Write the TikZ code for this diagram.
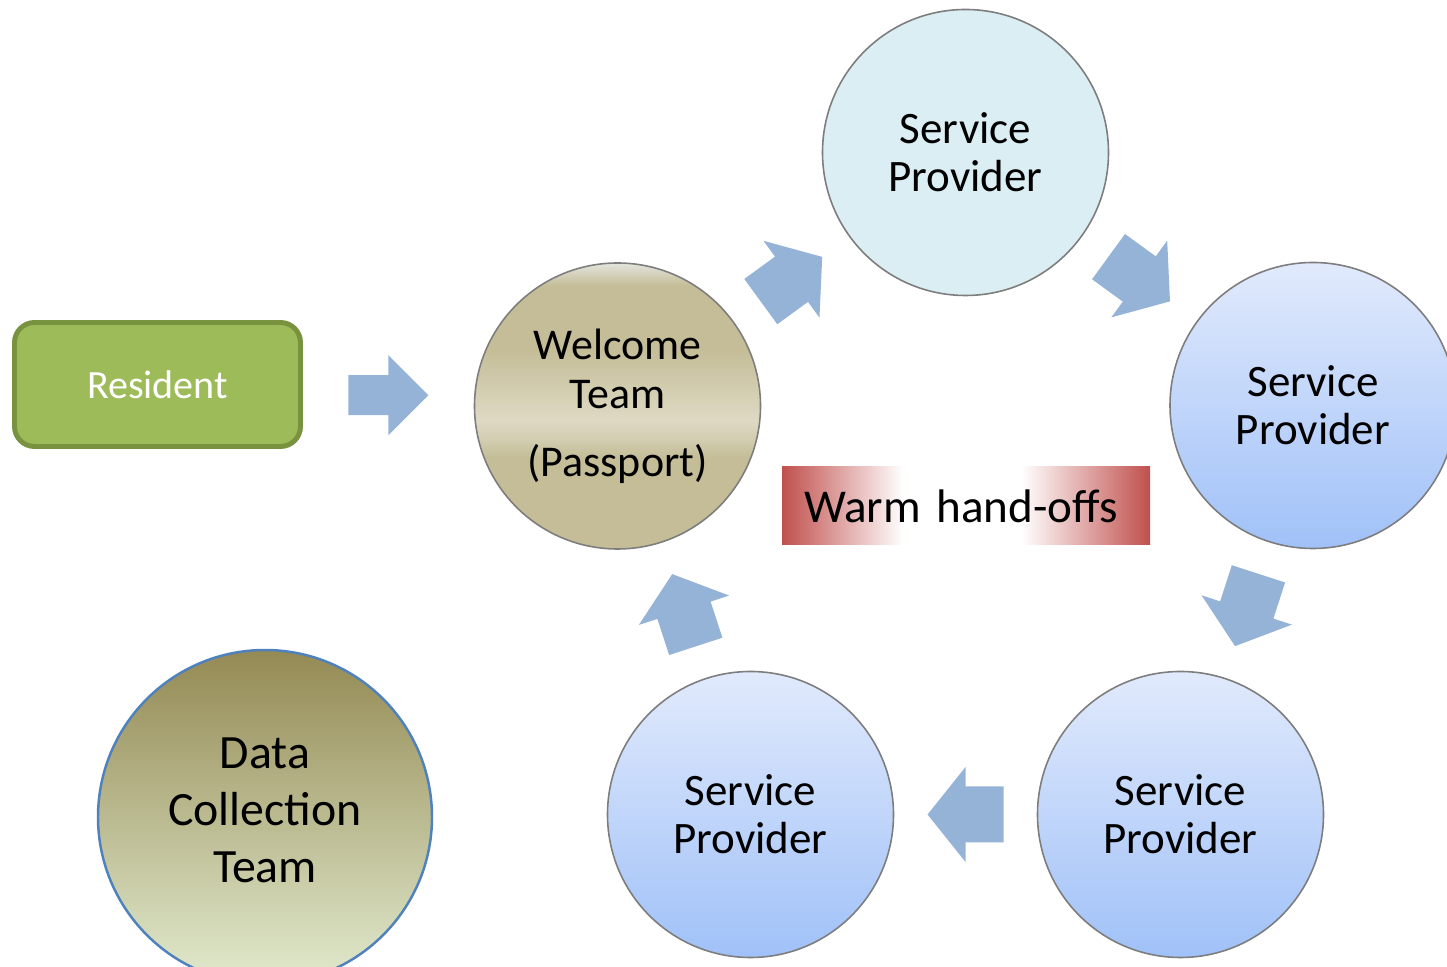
\documentclass[tikz,border=0pt]{standalone}
\usepackage{fontspec}
\setmainfont{Carlito}
\usetikzlibrary{calc}

% palette
\definecolor{arrowblue}{RGB}{149,179,215}
\definecolor{resfill}{RGB}{157,187,89}
\definecolor{resline}{RGB}{120,146,64}
\definecolor{spcyan}{RGB}{218,238,243}
\definecolor{rimgray}{RGB}{125,125,125}
\definecolor{dctline}{RGB}{79,129,189}
\definecolor{warmred}{RGB}{192,80,77}
\definecolor{spTop}{RGB}{225,234,252}
\definecolor{spBot}{RGB}{160,193,248}
\definecolor{welTan}{RGB}{196,189,151}
\definecolor{welLight}{RGB}{222,217,196}
\definecolor{welMid}{RGB}{210,204,176}
\definecolor{welTop}{RGB}{228,228,222}
\definecolor{oliveTop}{RGB}{148,138,84}
\definecolor{oliveBot}{RGB}{225,234,205}

% gradients (the 25bp..75bp band maps onto the filled shape)
\pgfdeclareverticalshading{spblue}{100bp}{color(0bp)=(spBot); color(25bp)=(spBot); color(75bp)=(spTop); color(100bp)=(spTop)}
\pgfdeclareverticalshading{welcomemetal}{100bp}{color(0bp)=(welTan); color(41bp)=(welTan); color(44bp)=(welMid); color(47.5bp)=(welLight); color(60bp)=(welTan); color(71bp)=(welTan); color(75bp)=(welTop); color(100bp)=(welTop)}
\pgfdeclareverticalshading{olive}{100bp}{color(0bp)=(oliveBot); color(25bp)=(oliveBot); color(75bp)=(oliveTop); color(100bp)=(oliveTop)}
\pgfdeclarehorizontalshading{warm}{100bp}{color(0bp)=(warmred); color(25bp)=(warmred); color(41.5bp)=(white); color(57.5bp)=(white); color(75bp)=(warmred); color(100bp)=(warmred)}

% block arrow placed halfway between two nodes, pointing from the first to the second
\newcommand\handoff[2]{%
  \path let \p1=(#1.center), \p2=(#2.center), \n1={atan2(\y2-\y1,\x2-\x1)} in
    pic[rotate=\n1] at ($(\p1)!0.5!(\p2)$) {flowarrow};}

\begin{document}
\begin{tikzpicture}[x=0.1mm, y=-0.1mm,
  resbox/.style={draw=resline, line width=1.4pt, fill=resfill, rounded corners=2mm,
    minimum width=28.6mm, minimum height=12.4mm, inner sep=0pt, text=white,
    font=\fontsize{11.4}{13.7}\selectfont},
  disc/.style={circle, draw=rimgray, line width=0.45pt, minimum size=28.6mm, inner sep=0pt,
    align=center, font=\fontsize{12.8}{13.7}\selectfont},
  spflat/.style={disc, fill=spcyan},
  spgrad/.style={disc, shade, shading=spblue},
  welcome/.style={disc, shade, shading=welcomemetal, font=\fontsize{12.5}{14.2}\selectfont},
  dct/.style={circle, draw=dctline, line width=0.7pt, minimum size=33.4mm, inner sep=0pt,
    shade, shading=olive},
  dcttext/.style={align=center, inner sep=0pt, font=\fontsize{13.6}{16.2}\selectfont},
  warmbox/.style={shade, shading=warm, minimum width=36.8mm, minimum height=7.8mm,
    inner xsep=2.2mm, inner ysep=0pt, text width=32.4mm, align=left,
    font=\fontsize{13.4}{16}\selectfont},
  flowarrow/.pic={\fill[arrowblue] (-38,-28) -- (0,-28) -- (0,-47.5) -- (38,0)
    -- (0,47.5) -- (0,28) -- (-38,28) -- cycle;},
  entryarrow/.pic={\fill[arrowblue] (-40,-20) -- (0,-20) -- (0,-40) -- (40,0)
    -- (0,40) -- (0,20) -- (-40,20) -- cycle;}
]
\useasboundingbox (0,0) rectangle (1447,967);
\clip (0,0) rectangle (1447,967);

% participants
\node[resbox] (res) at (157.5,384.5) {Resident};
\node[welcome] (wel) at (617.5,406) {Welcome\\Team\\[5pt](Passport)};
\node[spflat] (sp1) at (965.5,152.5) {Service\\Provider};
\node[spgrad] (sp2) at (1313,405.5) {Service\\Provider};
\node[spgrad] (sp3) at (1180.5,814.5) {Service\\Provider};
\node[spgrad] (sp4) at (750.5,814.5) {Service\\Provider};
\node[dct] (dct) at (265,817) {};
\node[dcttext] (dctlabel) at (265,810) {Data\\Collection\\Team};
\node[warmbox] (warm) at (966,506) {Warm hand-offs};

% entry arrow and the hand-off cycle
\path pic at ($(res.east)!0.5!(wel.west)$) {entryarrow};
\handoff{wel}{sp1}
\handoff{sp1}{sp2}
\handoff{sp2}{sp3}
\handoff{sp3}{sp4}
\handoff{sp4}{wel}
\end{tikzpicture}
\end{document}
